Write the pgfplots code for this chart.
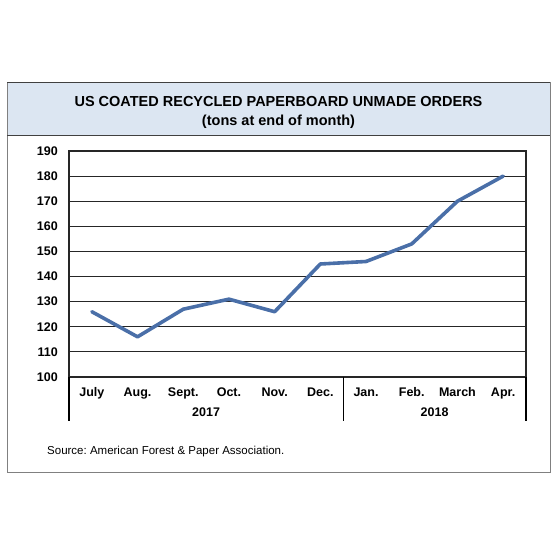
\documentclass[border=0pt]{standalone}
\usepackage{fontspec}
\setmainfont{Liberation Sans}
\usepackage{pgfplots}
\pgfplotsset{compat=1.18}
\definecolor{titlebg}{HTML}{DCE6F2}
\definecolor{linec}{HTML}{4A6FA8}
\definecolor{framec}{HTML}{808080}
\frenchspacing
\begin{document}
\begin{tikzpicture}
\path (0pt,0pt) rectangle (560pt,560pt);
% outer frame and title box
\fill[titlebg] (7pt,424pt) rectangle (550pt,477pt);
\draw[framec, line width=1pt] (7pt,87pt) rectangle (550pt,477pt);
\draw[black!75, line width=1pt] (7pt,477pt) -- (550pt,477pt);
\draw[black!75, line width=1pt] (7pt,424pt) -- (550pt,424pt);
\node[font=\fontsize{14.5}{16}\selectfont\bfseries] at (278.5pt,458pt) {US COATED RECYCLED PAPERBOARD UNMADE ORDERS};
\node[font=\fontsize{14.5}{16}\selectfont\bfseries] at (278.5pt,438pt) {(tons at end of month)};
\node[font=\fontsize{11.5}{13}\selectfont, anchor=west, inner sep=0pt] at (47pt,108pt) {Source:\ American Forest \& Paper Association.};
\begin{axis}[
  at={(69pt,183pt)}, anchor=south west,
  scale only axis, width=457pt, height=226pt,
  xmin=-0.5, xmax=9.5, ymin=100, ymax=190,
  ytick={100,110,...,190},
  xtick={0,...,9},
  xticklabels={July,Aug.,Sept.,Oct.,Nov.,Dec.,Jan.,Feb.,March,Apr.},
  major tick length=0pt,
  ymajorgrids, grid style={black!85, line width=1.1pt},
  axis line style={black!85, line width=1.2pt},
  /pgf/number format/assume math mode=true,
  yticklabel style={font=\fontsize{12.5}{14}\selectfont\bfseries, anchor=east, inner sep=0pt, xshift=-11pt},
  xticklabel style={font=\fontsize{12.5}{14}\selectfont\bfseries, anchor=base, inner sep=0pt, yshift=-19.5pt},
  clip=false,
]
\addplot[linec, line width=3.6pt, line join=round, line cap=round] coordinates {
  (0,126) (1,116) (2,127) (3,131) (4,126) (5,145) (6,146) (7,153) (8,170) (9,180)
};
\draw[black, line width=1.1pt] (axis cs:-0.5,100) -- ([yshift=-44pt]axis cs:-0.5,100);
\draw[black, line width=1.1pt] (axis cs:5.5,100) -- ([yshift=-44pt]axis cs:5.5,100);
\draw[black, line width=1.1pt] (axis cs:9.5,100) -- ([yshift=-44pt]axis cs:9.5,100);
\node[font=\fontsize{12.5}{14}\selectfont\bfseries, anchor=base, inner sep=0pt] at ([yshift=-39.5pt]axis cs:2.5,100) {2017};
\node[font=\fontsize{12.5}{14}\selectfont\bfseries, anchor=base, inner sep=0pt] at ([yshift=-39.5pt]axis cs:7.5,100) {2018};
\end{axis}
\end{tikzpicture}
\end{document}
